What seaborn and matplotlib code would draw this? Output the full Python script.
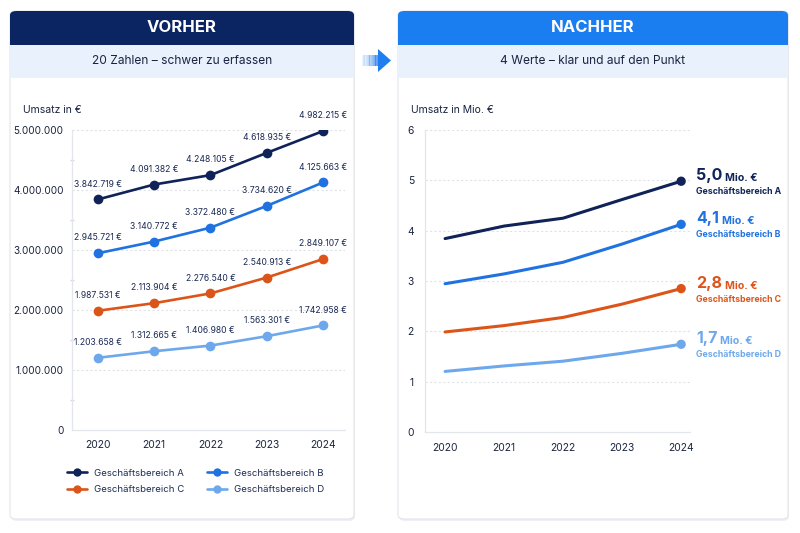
import numpy as np
import pandas as pd
import matplotlib
matplotlib.use("Agg")
import matplotlib.pyplot as plt
from matplotlib.patches import FancyBboxPatch, Rectangle, Polygon
from matplotlib.lines import Line2D
import matplotlib.ticker as mticker
import seaborn as sns

# ---------------- data ----------------
years = [2020, 2021, 2022, 2023, 2024]
bereiche = ["Geschäftsbereich A", "Geschäftsbereich B", "Geschäftsbereich C", "Geschäftsbereich D"]
umsatz_a = [3842719, 4091382, 4248105, 4618935, 4982215]
umsatz_b = [2945721, 3140772, 3372480, 3734620, 4125663]
umsatz_c = [1987531, 2113904, 2276540, 2540913, 2849107]
umsatz_d = [1203658, 1312665, 1406980, 1563301, 1742958]
left_yticks = [0, 1000000, 2000000, 3000000, 4000000, 5000000]
left_yticklabels = ["0", "1.000.000", "2.000.000", "3.000.000", "4.000.000", "5.000.000"]
right_yticks = [0, 1, 2, 3, 4, 5, 6]
end_labels = ["5,0", "4,1", "2,8", "1,7"]

colors = ["#0f2358", "#1f72e0", "#dd5419", "#6ea8ec"]

series = [umsatz_a, umsatz_b, umsatz_c, umsatz_d]
df = pd.DataFrame({
    "Jahr": np.tile(years, 4),
    "Bereich": np.repeat(bereiche, 5),
    "Umsatz": np.concatenate(series),
})
df["Mio"] = df["Umsatz"] / 1e6

sns.set_theme(style="white")
plt.rcParams["font.family"] = ["Inter", "DejaVu Sans"]

W, H = 800, 533
fig = plt.figure(figsize=(W / 100, H / 100), dpi=100)
fig.patch.set_facecolor("white")


def fx(x):
    return x / W


def fy(y):
    return 1 - y / H


def card(x0, x1, y0, y1, head_color, title, subtitle):
    sh = FancyBboxPatch((fx(x0 + 1), fy(y1 + 2)), fx(x1 - x0), (y1 - y0) / H,
                        boxstyle="round,pad=0,rounding_size=0.008", transform=fig.transFigure,
                        facecolor="#eef0f3", edgecolor="none", zorder=0)
    fig.patches.append(sh)
    body = FancyBboxPatch((fx(x0), fy(y1)), fx(x1 - x0), (y1 - y0) / H,
                          boxstyle="round,pad=0,rounding_size=0.008", transform=fig.transFigure,
                          facecolor="white", edgecolor="#e2e5ea", linewidth=0.8, zorder=1)
    fig.patches.append(body)
    head = FancyBboxPatch((fx(x0), fy(y0 + 34)), fx(x1 - x0), 34 / H,
                          boxstyle="round,pad=0,rounding_size=0.008", transform=fig.transFigure,
                          facecolor=head_color, edgecolor="none", zorder=2)
    fig.patches.append(head)
    sub = Rectangle((fx(x0), fy(78)), fx(x1 - x0), (78 - 40) / H, transform=fig.transFigure,
                    facecolor="#e8f1fc", edgecolor="none", zorder=3)
    fig.patches.append(sub)
    head2 = Rectangle((fx(x0), fy(45)), fx(x1 - x0), 8 / H, transform=fig.transFigure,
                      facecolor=head_color, edgecolor="none", zorder=3)
    fig.patches.append(head2)
    fig.text(fx((x0 + x1) / 2), fy(28), title, color="white", fontsize=12, fontweight="bold",
             ha="center", va="center", zorder=5)
    fig.text(fx((x0 + x1) / 2), fy(61), subtitle, color="#1a2440", fontsize=8.6,
             ha="center", va="center", zorder=5)


card(10, 354, 11, 519, "#0b2462", "VORHER", "20 Zahlen – schwer zu erfassen")
card(398, 788, 11, 519, "#1a7ef0", "NACHHER", "4 Werte – klar und auf den Punkt")

# arrow between cards
n = 14
for i in range(n):
    xa = 362 + i * (17 / n)
    r = Rectangle((fx(xa), fy(66)), fx(17 / n + 0.3), 11 / H, transform=fig.transFigure,
                  facecolor="#1f7ef0", alpha=0.08 + 0.8 * (i / n) ** 1.3, edgecolor="none", zorder=2)
    fig.patches.append(r)
tri = Polygon([(fx(378), fy(49)), (fx(391), fy(60.5)), (fx(378), fy(72))], closed=True,
              transform=fig.transFigure, facecolor="#1f7ef0", edgecolor="none", zorder=2)
fig.patches.append(tri)

grid_kw = dict(color="#dfe3e8", linewidth=0.8, linestyle=(0, (2, 2)))
tick_color = "#1a2440"

# ---------------- left chart ----------------
ax1 = fig.add_axes([fx(72), fy(430), fx(345 - 72), (430 - 130) / H])
ax1.set_zorder(6)
ax1.patch.set_alpha(0)
sns.lineplot(data=df, x="Jahr", y="Umsatz", hue="Bereich", palette=colors, marker="o",
             markersize=7, markeredgewidth=0, linewidth=1.9, ax=ax1, legend=False)
ax1.set_xlim(2019.54, 2024.39)
ax1.set_ylim(0, 5000000)
ax1.set_yticks(left_yticks)
ax1.set_yticklabels(left_yticklabels)
ax1.yaxis.set_minor_locator(mticker.MultipleLocator(500000))
ax1.set_xticks(years)
ax1.set_xticklabels([str(y) for y in years])
ax1.set_xlabel("")
ax1.set_ylabel("")
for yv in left_yticks[1:]:
    ax1.axhline(yv, zorder=0, **grid_kw)
for s in ["top", "right"]:
    ax1.spines[s].set_visible(False)
for s in ["left", "bottom"]:
    ax1.spines[s].set_color("#e3e6ea")
    ax1.spines[s].set_linewidth(0.9)
ax1.tick_params(axis="y", which="major", length=0, labelsize=7.2, labelcolor=tick_color, pad=6)
ax1.tick_params(axis="y", which="minor", length=3, color="#d5d9df", direction="inout", left=True)
ax1.tick_params(axis="x", length=0, labelsize=7.4, labelcolor=tick_color, pad=7)
for vals in series:
    for xv, yv in zip(years, vals):
        lbl = f"{yv:,}".replace(",", ".") + " €"
        ax1.annotate(lbl, (xv, yv), xytext=(0, 11), textcoords="offset points", ha="center",
                     va="center", fontsize=6.2, color="#1b2a55", annotation_clip=False)
fig.text(fx(23), fy(110), "Umsatz in €", fontsize=7.5, color=tick_color, ha="left", va="center", zorder=5)

handles = [Line2D([0], [0], color=c, marker="o", markersize=6, markeredgewidth=0, linewidth=1.9)
           for c in colors]
order = [0, 2, 1, 3]
leg = fig.legend([handles[i] for i in order], [bereiche[i] for i in order],
                 loc="center left", bbox_to_anchor=(fx(67), fy(481.5)), ncol=2,
                 frameon=False, fontsize=6.9, handlelength=2.1, columnspacing=2.3, labelspacing=0.8,
                 handletextpad=0.75, borderpad=0, borderaxespad=0)
for t in leg.get_texts():
    t.set_color("#1b2a55")
leg.set_zorder(6)

# ---------------- right chart ----------------
ax2 = fig.add_axes([fx(425), fy(432), fx(690 - 425), (432 - 130) / H])
ax2.set_zorder(6)
ax2.patch.set_alpha(0)
sns.lineplot(data=df, x="Jahr", y="Mio", hue="Bereich", palette=colors, linewidth=2.2,
             ax=ax2, legend=False)
last = df[df["Jahr"] == years[-1]]
ax2.scatter(last["Jahr"], last["Mio"], c=colors, s=45, zorder=5, linewidths=0)
ax2.set_xlim(2019.66, 2024.15)
ax2.set_ylim(0, 6)
ax2.set_yticks(right_yticks)
ax2.set_xticks(years)
ax2.set_xticklabels([str(y) for y in years])
ax2.set_xlabel("")
ax2.set_ylabel("")
for yv in right_yticks[1:]:
    ax2.axhline(yv, zorder=0, **grid_kw)
for s in ["top", "right"]:
    ax2.spines[s].set_visible(False)
for s in ["left", "bottom"]:
    ax2.spines[s].set_color("#e3e6ea")
    ax2.spines[s].set_linewidth(0.9)
ax2.tick_params(axis="y", length=0, labelsize=7.4, labelcolor=tick_color, pad=8)
ax2.tick_params(axis="x", length=0, labelsize=7.4, labelcolor=tick_color, pad=8)
fig.text(fx(411), fy(110), "Umsatz in Mio. €", fontsize=7.5, color=tick_color, ha="left", va="center", zorder=5)

for lab, name, c, (_, row) in zip(end_labels, bereiche, colors, last.iterrows()):
    t = ax2.annotate(lab, (row["Jahr"], row["Mio"]), xytext=(11, 4), textcoords="offset points",
                     ha="left", va="center", fontsize=11.5, fontweight="bold", color=c,
                     annotation_clip=False)
    fig.canvas.draw()
    bb = t.get_window_extent()
    fig.text(bb.x1 / W + fx(2.5), bb.y0 / H + 2 / H, "Mio. €", fontsize=7.6, fontweight="bold",
             color=c, ha="left", va="baseline", zorder=7)
    ax2.annotate(name, (row["Jahr"], row["Mio"]), xytext=(11, -7.5), textcoords="offset points",
                 ha="left", va="center", fontsize=6.3, fontweight="bold", color=c,
                 annotation_clip=False)

fig.savefig("out.png", dpi=100, facecolor="white")
